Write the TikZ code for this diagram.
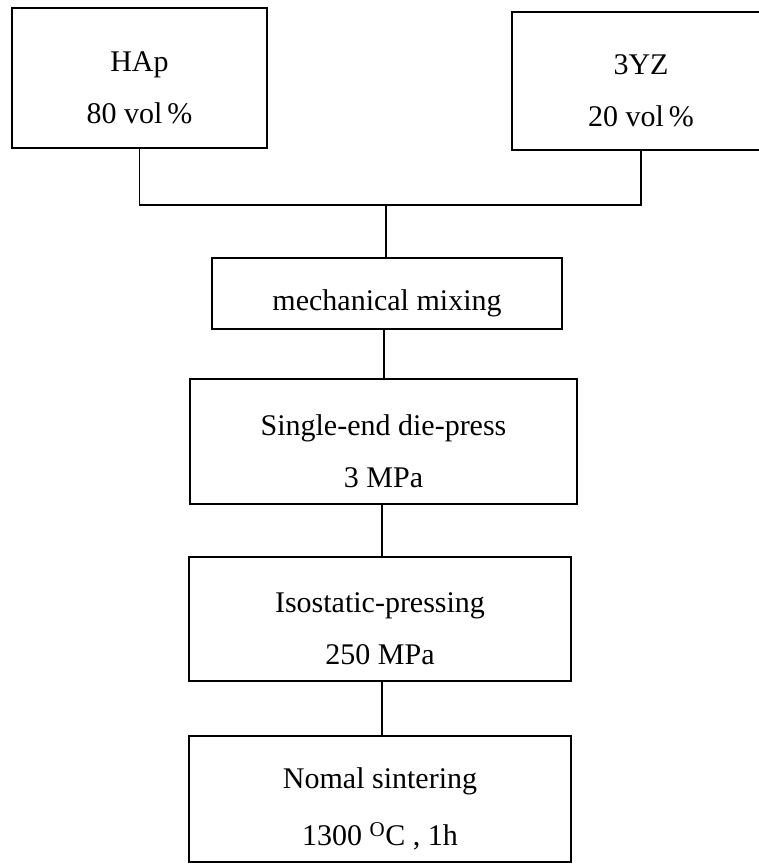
\documentclass[tikz,border=0pt]{standalone}
\usepackage{fontspec}
\setmainfont{Liberation Serif}
\usepackage{tikz}
\usetikzlibrary{positioning, calc}

\newcommand{\stagestrut}{\rule{0pt}{40pt}}

\tikzset{
  stage/.style={draw, line width=1.5pt, outer sep=0pt, inner sep=2pt, align=center,
    font=\fontsize{30}{52}\selectfont},
  link/.style={line width=1.5pt}
}

\begin{document}
\begin{tikzpicture}[x=1pt, y=-1pt]
		\useasboundingbox (0,0) rectangle (759,864);
		
		% Starting powders
		\node[stage, minimum width=255pt, minimum height=140pt] (hap) at (139.5,78) {\stagestrut HAp\\80 vol\,\%};
		\node[stage, minimum width=258pt, minimum height=138pt] (yz) at (641,81) {\stagestrut 3YZ\\20 vol\,\%};
		
		% Process steps
		\node[stage, minimum width=350pt, minimum height=71pt] (mix) at (387,293.5) {\stagestrut mechanical mixing};
		\node[stage, minimum width=387pt, minimum height=125pt] (press) at (383.5,441.5) {\stagestrut Single-end die-press\\3 MPa};
		\node[stage, minimum width=382pt, minimum height=124pt] (iso) at (380,619) {\stagestrut Isostatic-pressing\\250 MPa};
		\node[stage, minimum width=382pt, minimum height=126pt] (sinter) at (380,799) {\stagestrut Nomal sintering\\[5pt]1300 \textsuperscript{O}C , 1h};
		
		% Joining the powders
		\coordinate (join) at (386,205);
		\draw[link] (hap.south) |- (join);
		\draw[link] (yz.south) |- (join);
		\draw[link] (join) -- (join |- mix.north);
		
		% Flow down
		\draw[link] (mix.south -| 384,0) -- (press.north -| 384,0);
		\draw[link] (press.south -| 382,0) -- (iso.north -| 382,0);
		\draw[link] (iso.south -| 382,0) -- (sinter.north -| 382,0);
	\end{tikzpicture}
\end{document}
